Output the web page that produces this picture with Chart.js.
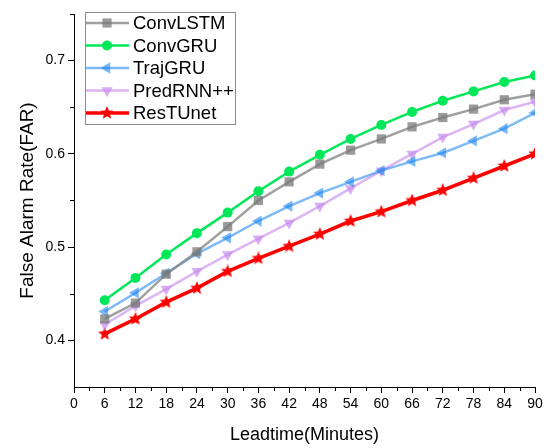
<!DOCTYPE html>
<html>
<head>
<meta charset="utf-8">
<script src="https://cdn.jsdelivr.net/npm/chart.js@4/dist/chart.umd.min.js"></script>
<style>
  html, body { margin: 0; padding: 0; background: #fff; }
  #wrap { width: 552px; height: 448px; }
</style>
</head>
<body>
<div id="wrap"><canvas id="farChart"></canvas></div>
<script>
const leadtimes = [6, 12, 18, 24, 30, 36, 42, 48, 54, 60, 66, 72, 78, 84, 90];
const xTicks = [0, 6, 12, 18, 24, 30, 36, 42, 48, 54, 60, 66, 72, 78, 84, 90];
const yTicks = [0.4, 0.5, 0.6, 0.7];

const convLSTM  = [0.423, 0.440, 0.471, 0.495, 0.522, 0.550, 0.570, 0.589, 0.604, 0.616, 0.629, 0.639, 0.648, 0.658, 0.664];
const convGRU   = [0.443, 0.467, 0.492, 0.515, 0.537, 0.560, 0.581, 0.599, 0.616, 0.631, 0.645, 0.657, 0.667, 0.677, 0.684];
const trajGRU   = [0.431, 0.451, 0.472, 0.493, 0.510, 0.528, 0.544, 0.558, 0.570, 0.582, 0.592, 0.601, 0.614, 0.627, 0.644];
const predRNN   = [0.417, 0.437, 0.455, 0.474, 0.492, 0.509, 0.526, 0.544, 0.563, 0.582, 0.600, 0.618, 0.632, 0.647, 0.656];
const resTUnet  = [0.407, 0.423, 0.441, 0.456, 0.474, 0.488, 0.501, 0.514, 0.528, 0.538, 0.550, 0.561, 0.574, 0.587, 0.600];

Chart.defaults.font.family = "'Liberation Sans', Arial, sans-serif";
Chart.defaults.color = "#000";

// filled 5 point star, chart.js 'star' is only an asterisk
const makeStar = (size, color) => {
    const c = document.createElement("canvas");
    c.width = size; c.height = size;
    const g = c.getContext("2d");
    const cx = size / 2, cy = size / 2, ro = size / 2, ri = ro * 0.45;
    g.beginPath();
    for (let i = 0; i < 10; i++) {
        const r = i % 2 === 0 ? ro : ri;
        const a = -Math.PI / 2 + i * Math.PI / 5;
        g.lineTo(cx + r * Math.cos(a), cy + r * Math.sin(a));
    }
    g.closePath();
    g.fillStyle = color;
    g.fill();
    return c;
};
const starImg = makeStar(14, "#ff0000");

const toPoints = arr => arr.map((v, i) => ({ x: leadtimes[i], y: v }));

const datasets = [
    { label: "ConvLSTM", data: toPoints(convLSTM), borderColor: "rgba(135,135,135,0.8)", backgroundColor: "rgba(120,120,120,0.75)",
      borderWidth: 2.5, pointStyle: "rect", pointRadius: 6.5, pointRotation: 0 },
    { label: "ConvGRU", data: toPoints(convGRU), borderColor: "#00e85a", backgroundColor: "#00e85a",
      borderWidth: 2.5, pointStyle: "circle", pointRadius: 5, pointRotation: 0 },
    { label: "TrajGRU", data: toPoints(trajGRU), borderColor: "rgba(40,140,240,0.6)", backgroundColor: "rgba(30,135,240,0.6)",
      borderWidth: 2.5, pointStyle: "triangle", pointRadius: 6.5, pointRotation: -90 },
    { label: "PredRNN++", data: toPoints(predRNN), borderColor: "rgba(205,150,240,0.7)", backgroundColor: "rgba(200,140,240,0.7)",
      borderWidth: 2.5, pointStyle: "triangle", pointRadius: 6.5, pointRotation: 180 },
    { label: "ResTUnet", data: toPoints(resTUnet), borderColor: "#ff0000", backgroundColor: "#ff0000",
      borderWidth: 3.5, pointStyle: starImg, pointRadius: 7, pointRotation: 0 }
];
datasets.forEach(d => { d.pointBorderWidth = 0; d.tension = 0; });

// legend box with line + marker like the original plot
const boxLegend = {
    id: "boxLegend",
    afterDraw(chart) {
        const ctx = chart.ctx;
        const x0 = 85, y0 = 12, w = 150, h = 112;
        ctx.save();
        ctx.strokeStyle = "#8c8c8c";
        ctx.lineWidth = 1;
        ctx.strokeRect(x0 + 0.5, y0 + 0.5, w, h);
        ctx.font = "18.5px 'Liberation Sans', Arial, sans-serif";
        ctx.textBaseline = "middle";
        chart.data.datasets.forEach((ds, i) => {
            const y = y0 + 11 + i * 22.5;
            ctx.strokeStyle = ds.borderColor;
            ctx.lineWidth = ds.borderWidth;
            ctx.beginPath();
            ctx.moveTo(x0 + 1, y);
            ctx.lineTo(x0 + 44, y);
            ctx.stroke();
            ctx.fillStyle = ds.backgroundColor;
            Chart.helpers.drawPoint(ctx, { pointStyle: ds.pointStyle, radius: ds.pointRadius, rotation: ds.pointRotation, borderWidth: 0 }, x0 + 22, y);
            ctx.fillStyle = "#000";
            ctx.fillText(ds.label, x0 + 48, y + 1);
        });
        ctx.restore();
    }
};

// minor ticks between the labelled ones
const minorTicks = {
    id: "minorTicks",
    afterDraw(chart) {
        const ctx = chart.ctx;
        const xs = chart.scales.x, ys = chart.scales.y;
        ctx.save();
        ctx.strokeStyle = "#000";
        ctx.lineWidth = 1;
        ctx.beginPath();
        for (let v = 3; v < 90; v += 6) {
            const px = Math.round(xs.getPixelForValue(v)) + 0.5;
            ctx.moveTo(px, xs.top);
            ctx.lineTo(px, xs.top + 4);
        }
        [0.45, 0.55, 0.65, 0.75].forEach(v => {
            const py = Math.round(ys.getPixelForValue(v)) + 0.5;
            ctx.moveTo(ys.right, py);
            ctx.lineTo(ys.right - 4, py);
        });
        ctx.stroke();
        ctx.restore();
    }
};

new Chart(document.getElementById("farChart"), {
    type: "line",
    data: { datasets: datasets },
    options: {
        responsive: true,
        maintainAspectRatio: false,
        animation: false,
        layout: { padding: { top: 14, right: 17, left: 0, bottom: 0 } },
        plugins: { legend: { display: false }, tooltip: { enabled: false } },
        scales: {
            x: {
                type: "linear",
                min: 0, max: 90,
                afterBuildTicks: scale => { scale.ticks = xTicks.map(v => ({ value: v })); },
                afterFit: scale => { scale.height = 61; },
                ticks: { font: { size: 14 }, color: "#000", padding: 3, maxRotation: 0 },
                grid: { drawOnChartArea: false, color: "#000", tickColor: "#000", tickLength: 6 },
                border: { color: "#000", width: 1 },
                title: { display: true, text: "Leadtime(Minutes)", font: { size: 18 }, color: "#000", padding: { top: 0, bottom: 2 } }
            },
            y: {
                min: 0.35, max: 0.75,
                afterBuildTicks: scale => { scale.ticks = yTicks.map(v => ({ value: v })); },
                afterFit: scale => { scale.width = 74; },
                ticks: { font: { size: 14 }, color: "#000", padding: 3, callback: v => v.toFixed(1) },
                grid: { drawOnChartArea: false, color: "#000", tickColor: "#000", tickLength: 6 },
                border: { color: "#000", width: 1 },
                title: { display: true, text: "False Alarm Rate(FAR)", font: { size: 19 }, color: "#000", padding: { top: 16, bottom: 0 } }
            }
        }
    },
    plugins: [boxLegend, minorTicks]
});
</script>
</body>
</html>
